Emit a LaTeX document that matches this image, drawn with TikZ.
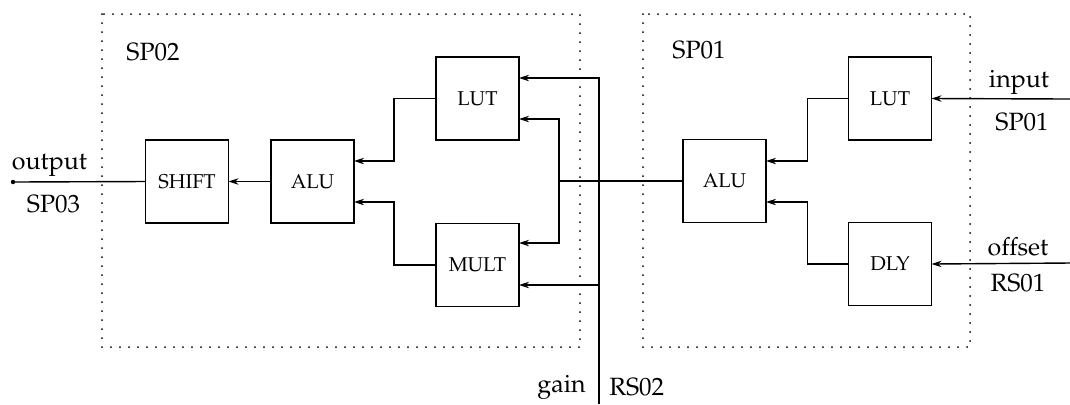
\documentclass[tikz,border=0pt]{standalone}
\usepackage[T1]{fontenc}
\usepackage{mathpazo}
\usetikzlibrary{arrows.meta}
\tikzset{
  unit/.style={draw, line width=0.7pt, minimum width=41.5pt, minimum height=41.5pt,
               inner sep=0pt, outer sep=0pt, font=\fontsize{10}{12}\selectfont},
  sig/.style={line width=0.7pt},
  arr/.style={sig, -{Stealth[length=5pt,width=3.2pt]}},
  group/.style={line width=1pt, line cap=round, dash pattern=on 0pt off 4.5pt},
  lbl/.style={font=\fontsize{12.5}{14}\selectfont, inner sep=0pt}
}
\begin{document}
\begin{tikzpicture}[x=0.5pt, y=-0.5pt]
\useasboundingbox (0,0) rectangle (1070,404);

% processor groups
\draw[group] (102,14) rectangle (580,347);
\draw[group] (643,14) rectangle (970,347);
\node[lbl] (sp02) at (153,52) {SP02};
\node[lbl] (sp01) at (699,50) {SP01};

% SP02 units
\node[unit] (shift) at (187,181.5) {SHIFT};
\node[unit] (alu2)  at (312.5,181.5) {ALU};
\node[unit] (lut2)  at (477.5,98.5) {LUT};
\node[unit] (mult)  at (477.5,265) {MULT};

% SP01 units
\node[unit] (alu1) at (724.5,181) {ALU};
\node[unit] (lut1) at (890,98.5) {LUT};
\node[unit] (dly)  at (890,264) {DLY};

% external terminals
\coordinate (out) at (13,182);
\coordinate (inA) at (1070,99);
\coordinate (inB) at (1070,263);
\coordinate (gain) at (599,404);
\coordinate (mid) at (559,181);

% SP01 internal paths
\draw[arr] (inA) -- (lut1.east);
\draw[arr] (inB) -- (dly.east);
\draw[arr] (lut1.west) -- ++(-20.5pt,0) |- ([yshift=10pt]alu1.east);
\draw[arr] (dly.west) -- ++(-20.5pt,0) |- ([yshift=-10.5pt]alu1.east);

% link between processors
\draw[sig] (alu1.west) -- (mid);
\draw[arr] (mid) |- ([yshift=-10.25pt]lut2.east);
\draw[arr] (mid) |- ([yshift=11pt]mult.east);

% gain input
\draw[arr] (gain) |- ([yshift=10.25pt]lut2.east);
\draw[arr] ([yshift=-10pt]mult.east -| gain) -- ([yshift=-10pt]mult.east);

% SP02 internal paths
\draw[arr] (lut2.west) -- ++(-21pt,0) |- ([yshift=10.25pt]alu2.east);
\draw[arr] (mult.west) -- ++(-21pt,0) |- ([yshift=-10.25pt]alu2.east);
\draw[arr] (alu2.west) -- (shift.east);
\draw[sig] (shift.west) -- (out);
\fill (out) circle (1.1pt);

% terminal labels
\node[lbl] (lout)  at (49.5,165) {output};
\node[lbl] (lsp03) at (53.5,204) {SP03};
\node[lbl] (lin)   at (1019,82) {input};
\node[lbl] (lsp01) at (1022,122) {SP01};
\node[lbl] (loff)  at (1018,247) {offset};
\node[lbl] (lrs01) at (1018,283) {RS01};
\node[lbl, anchor=east] (lgain) at (586,387) {gain};
\node[lbl, anchor=west] (lrs02) at (609,387) {RS02};
\end{tikzpicture}
\end{document}
